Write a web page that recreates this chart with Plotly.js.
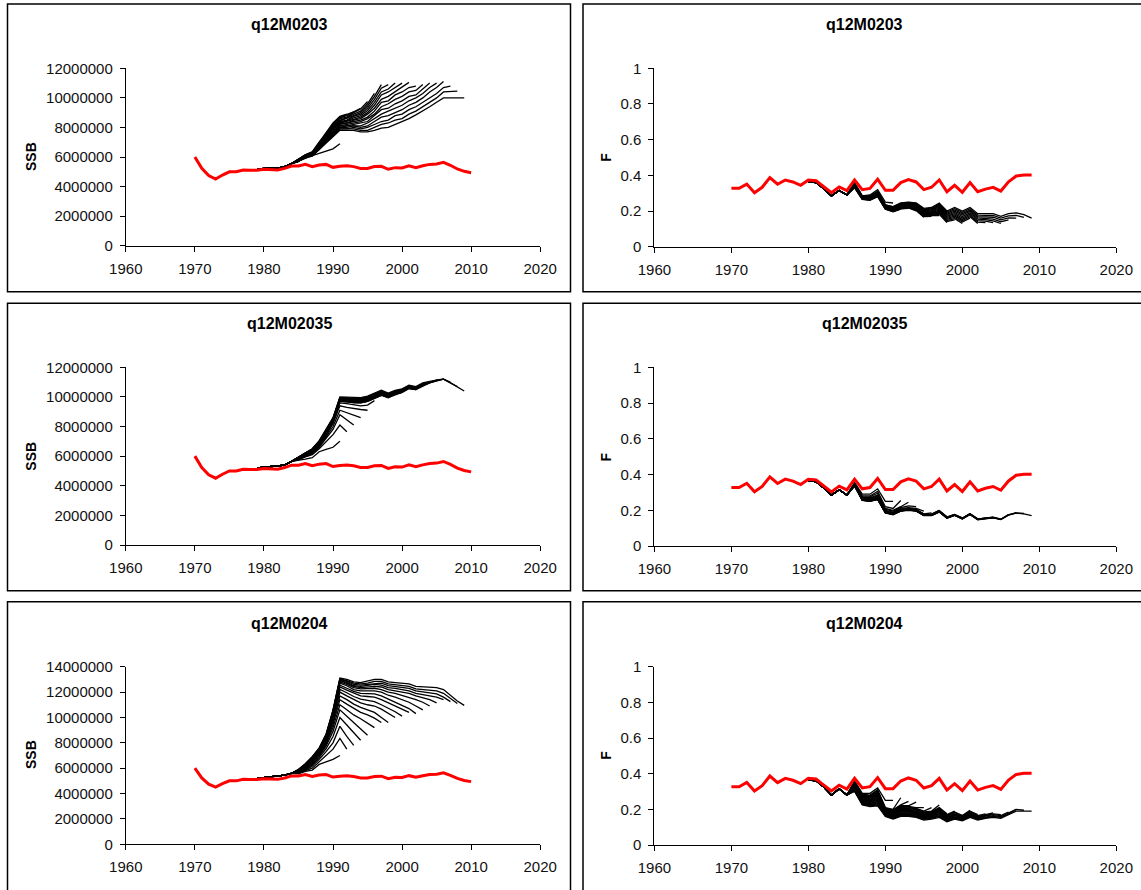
<!DOCTYPE html>
<html>
<head>
<meta charset="utf-8">
<script src="https://cdn.plot.ly/plotly-3.0.1.min.js"></script>
<style>
  html, body { margin: 0; padding: 0; background: #fff; }
  #chart { width: 1141px; height: 890px; }
</style>
</head>
<body>
<div id="chart"></div>
<script>
// --- Data (SSB in millions, F as rate) ---

// terminal years of the retrospective peels, one per black line
const peelYears = [1991, 1992, 1993, 1994, 1995, 1996, 1997, 1998, 1999, 2000,
                   2001, 2002, 2003, 2004, 2005, 2006, 2007, 2008, 2009];

// red reference run
const redSsbStart = 1970;
const redSsb = [6.0, 5.23, 4.74, 4.51, 4.78, 5.0, 5.0, 5.12, 5.1, 5.1,
                5.17, 5.14, 5.12, 5.23, 5.39, 5.39, 5.5, 5.35, 5.46, 5.5,
                5.3, 5.37, 5.41, 5.35, 5.23, 5.23, 5.35, 5.37, 5.17, 5.28,
                5.26, 5.41, 5.28, 5.41, 5.5, 5.53, 5.64, 5.44, 5.19, 5.03, 4.94];
const redFStart = 1970;
const redF = [0.327, 0.327, 0.351, 0.303, 0.333, 0.387, 0.35, 0.374, 0.363, 0.344,
              0.374, 0.37, 0.336, 0.303, 0.335, 0.314, 0.374, 0.32, 0.327, 0.378,
              0.316, 0.316, 0.359, 0.376, 0.363, 0.32, 0.333, 0.374, 0.308, 0.344,
              0.305, 0.359, 0.308, 0.323, 0.333, 0.312, 0.364, 0.396, 0.402, 0.402];

// SSB peels: shared head 1979-1984, then one tail per peel from 1985
const ssbHeadStart = 1979;
const ssbHead0203 = [5.2, 5.25, 5.25, 5.25, 5.35, 5.55];
const ssbPeels0203 = [
  [5.7, 5.9, 6.1, 6.25, 6.45, 6.55, 6.9],
  [5.85, 6.15, 6.35, 7.0, 7.6, 8.3, 8.75, 8.9],
  [5.85, 6.15, 6.35, 7.0, 7.55, 8.25, 8.7, 8.85, 9.05],
  [5.85, 6.15, 6.3, 6.95, 7.55, 8.2, 8.65, 8.8, 9.05, 9.3],
  [5.85, 6.1, 6.3, 6.9, 7.5, 8.1, 8.6, 8.7, 9.0, 9.25, 9.75],
  [5.8, 6.1, 6.3, 6.9, 7.45, 8.05, 8.5, 8.65, 8.9, 9.1, 9.6, 10.3],
  [5.8, 6.1, 6.25, 6.85, 7.4, 8.0, 8.45, 8.6, 8.8, 9.0, 9.45, 10.1, 10.9],
  [5.8, 6.1, 6.25, 6.85, 7.4, 7.95, 8.4, 8.5, 8.75, 8.9, 9.3, 9.9, 10.65, 10.9],
  [5.8, 6.05, 6.2, 6.8, 7.3, 7.9, 8.35, 8.45, 8.65, 8.8, 9.15, 9.7, 10.4, 10.6, 11.0],
  [5.8, 6.05, 6.2, 6.8, 7.3, 7.85, 8.3, 8.4, 8.55, 8.7, 9.0, 9.5, 10.2, 10.4, 10.7, 11.0],
  [5.8, 6.05, 6.2, 6.7, 7.25, 7.8, 8.25, 8.3, 8.5, 8.6, 8.9, 9.3, 9.9, 10.1, 10.4, 10.7, 11.05],
  [5.75, 6.0, 6.2, 6.7, 7.2, 7.7, 8.2, 8.3, 8.4, 8.5, 8.7, 9.1, 9.7, 9.8, 10.2, 10.4, 10.7, 10.8],
  [5.75, 6.0, 6.2, 6.7, 7.2, 7.7, 8.1, 8.2, 8.3, 8.4, 8.6, 8.9, 9.4, 9.6, 9.9, 10.1, 10.4, 10.5, 10.9],
  [5.75, 6.0, 6.1, 6.7, 7.1, 7.6, 8.1, 8.1, 8.2, 8.3, 8.4, 8.8, 9.2, 9.3, 9.6, 9.8, 10.1, 10.2, 10.6, 11.0],
  [5.7, 6.0, 6.1, 6.6, 7.1, 7.6, 8.0, 8.1, 8.1, 8.1, 8.3, 8.6, 8.9, 9.1, 9.3, 9.5, 9.8, 10.0, 10.3, 10.7, 11.0],
  [5.7, 6.0, 6.1, 6.6, 7.1, 7.5, 8.0, 8.0, 8.1, 8.0, 8.1, 8.4, 8.7, 8.8, 9.0, 9.2, 9.5, 9.7, 10.0, 10.4, 10.7, 11.1],
  [5.7, 6.0, 6.1, 6.6, 7.0, 7.5, 7.9, 7.9, 8.0, 7.9, 8.0, 8.2, 8.4, 8.5, 8.8, 8.9, 9.2, 9.4, 9.7, 10.0, 10.3, 10.7, 10.8],
  [5.7, 6.0, 6.1, 6.5, 7.0, 7.4, 7.9, 7.9, 7.9, 7.8, 7.8, 8.0, 8.2, 8.3, 8.5, 8.6, 8.9, 9.1, 9.4, 9.7, 10.0, 10.4, 10.4, 10.45],
  [5.7, 5.95, 6.05, 6.5, 6.95, 7.35, 7.8, 7.8, 7.8, 7.7, 7.7, 7.8, 7.95, 8.0, 8.2, 8.35, 8.6, 8.85, 9.1, 9.4, 9.7, 10.0, 10.0, 10.0, 10.0]
];

const ssbHead02035 = [5.2, 5.25, 5.25, 5.3, 5.4, 5.65];
const ssbPeels02035 = [
  [5.7, 5.8, 5.9, 6.3, 6.45, 6.6, 7.0],
  [5.75, 5.95, 6.1, 6.5, 7.0, 7.45, 8.1, 7.65],
  [5.8, 6.0, 6.15, 6.6, 7.2, 7.8, 8.8, 8.45, 8.1],
  [5.8, 6.0, 6.2, 6.65, 7.3, 8.0, 9.1, 8.95, 8.8, 8.6],
  [5.8, 6.05, 6.25, 6.7, 7.4, 8.2, 9.4, 9.3, 9.2, 9.15, 9.1],
  [5.85, 6.05, 6.3, 6.75, 7.45, 8.25, 9.6, 9.55, 9.45, 9.4, 9.45, 9.75],
  [5.85, 6.1, 6.3, 6.8, 7.5, 8.3, 9.7, 9.65, 9.6, 9.6, 9.7, 9.9, 10.1],
  [5.85, 6.1, 6.3, 6.8, 7.5, 8.3, 9.7, 9.7, 9.6, 9.6, 9.7, 9.9, 10.1, 9.95],
  [5.85, 6.1, 6.35, 6.85, 7.55, 8.35, 9.75, 9.7, 9.65, 9.65, 9.75, 9.95, 10.15, 9.95, 10.2],
  [5.85, 6.1, 6.35, 6.85, 7.55, 8.35, 9.75, 9.75, 9.7, 9.65, 9.75, 9.95, 10.15, 9.95, 10.15, 10.3],
  [5.9, 6.15, 6.35, 6.9, 7.6, 8.4, 9.8, 9.75, 9.7, 9.7, 9.8, 10.0, 10.2, 10.0, 10.2, 10.3, 10.6],
  [5.9, 6.15, 6.4, 6.9, 7.6, 8.4, 9.8, 9.8, 9.75, 9.7, 9.8, 10.0, 10.2, 10.0, 10.2, 10.3, 10.55, 10.5],
  [5.9, 6.15, 6.4, 6.9, 7.65, 8.45, 9.85, 9.8, 9.75, 9.75, 9.85, 10.05, 10.25, 10.05, 10.25, 10.35, 10.6, 10.5, 10.8],
  [5.9, 6.2, 6.4, 6.95, 7.65, 8.45, 9.85, 9.85, 9.8, 9.75, 9.85, 10.05, 10.25, 10.05, 10.25, 10.35, 10.6, 10.5, 10.75, 10.95],
  [5.9, 6.2, 6.45, 6.95, 7.7, 8.5, 9.9, 9.85, 9.8, 9.8, 9.9, 10.1, 10.3, 10.1, 10.3, 10.4, 10.6, 10.55, 10.8, 10.95, 11.1],
  [5.95, 6.2, 6.45, 7.0, 7.7, 8.5, 9.9, 9.9, 9.85, 9.85, 9.95, 10.1, 10.3, 10.1, 10.3, 10.4, 10.65, 10.55, 10.8, 10.95, 11.1, 11.2],
  [5.95, 6.2, 6.45, 7.0, 7.75, 8.55, 9.95, 9.9, 9.85, 9.85, 9.95, 10.15, 10.35, 10.15, 10.35, 10.45, 10.7, 10.6, 10.85, 11.0, 11.1, 11.2, 11.0],
  [5.95, 6.25, 6.5, 7.0, 7.75, 8.55, 9.95, 9.95, 9.9, 9.9, 10.0, 10.2, 10.4, 10.2, 10.4, 10.5, 10.75, 10.65, 10.9, 11.0, 11.15, 11.2, 10.95, 10.7],
  [5.95, 6.25, 6.5, 7.05, 7.8, 8.6, 10.0, 10.0, 9.95, 9.95, 10.05, 10.25, 10.45, 10.25, 10.45, 10.55, 10.8, 10.7, 10.95, 11.05, 11.15, 11.2, 10.95, 10.65, 10.4]
];

const ssbHead0204 = [5.2, 5.25, 5.3, 5.35, 5.45, 5.6];
const ssbPeels0204 = [
  [5.55, 5.75, 5.85, 6.3, 6.5, 6.7, 7.0],
  [5.6, 5.8, 6.0, 6.5, 7.0, 7.5, 8.35, 7.5],
  [5.65, 5.85, 6.15, 6.7, 7.3, 8.0, 9.3, 8.5, 7.8],
  [5.65, 5.9, 6.25, 6.85, 7.55, 8.5, 10.0, 9.4, 8.8, 8.2],
  [5.7, 5.95, 6.35, 6.95, 7.75, 8.9, 10.6, 10.1, 9.6, 9.1, 8.6],
  [5.7, 6.0, 6.45, 7.05, 7.9, 9.2, 11.0, 10.6, 10.2, 9.9, 9.55, 9.2],
  [5.75, 6.05, 6.5, 7.1, 8.0, 9.45, 11.4, 11.05, 10.7, 10.4, 10.2, 9.95, 9.6],
  [5.75, 6.1, 6.55, 7.2, 8.1, 9.65, 11.7, 11.4, 11.05, 10.8, 10.6, 10.4, 10.0, 9.6],
  [5.75, 6.1, 6.6, 7.25, 8.2, 9.85, 12.0, 11.7, 11.4, 11.15, 11.0, 10.9, 10.65, 10.35, 10.0],
  [5.8, 6.15, 6.65, 7.3, 8.3, 10.0, 12.2, 11.95, 11.65, 11.45, 11.35, 11.25, 11.0, 10.75, 10.45, 10.1],
  [5.8, 6.15, 6.7, 7.35, 8.35, 10.1, 12.4, 12.15, 11.9, 11.7, 11.65, 11.6, 11.4, 11.15, 10.95, 10.7, 10.4],
  [5.8, 6.2, 6.7, 7.4, 8.4, 10.2, 12.55, 12.3, 12.05, 11.9, 11.85, 11.85, 11.7, 11.45, 11.25, 11.0, 10.7, 10.3],
  [5.85, 6.2, 6.75, 7.4, 8.45, 10.3, 12.7, 12.5, 12.2, 12.1, 12.1, 12.1, 12.0, 11.75, 11.6, 11.4, 11.2, 10.9, 10.6],
  [5.85, 6.25, 6.8, 7.45, 8.5, 10.35, 12.8, 12.6, 12.35, 12.25, 12.25, 12.3, 12.2, 12.0, 11.9, 11.75, 11.6, 11.4, 11.2, 10.9],
  [5.85, 6.25, 6.8, 7.5, 8.55, 10.4, 12.9, 12.7, 12.45, 12.35, 12.4, 12.45, 12.4, 12.2, 12.1, 12.0, 11.9, 11.7, 11.55, 11.4, 11.15],
  [5.85, 6.3, 6.85, 7.5, 8.6, 10.45, 12.95, 12.75, 12.5, 12.45, 12.5, 12.6, 12.55, 12.35, 12.3, 12.2, 12.1, 11.9, 11.8, 11.75, 11.6, 11.4],
  [5.9, 6.3, 6.85, 7.55, 8.6, 10.5, 13.0, 12.85, 12.6, 12.55, 12.6, 12.7, 12.7, 12.5, 12.45, 12.35, 12.3, 12.1, 12.0, 11.95, 11.85, 11.6, 11.25],
  [5.9, 6.35, 6.9, 7.55, 8.65, 10.55, 13.05, 12.9, 12.7, 12.65, 12.7, 12.85, 12.85, 12.65, 12.6, 12.5, 12.45, 12.25, 12.2, 12.15, 12.1, 11.9, 11.5, 11.1],
  [5.9, 6.35, 6.9, 7.6, 8.7, 10.6, 13.1, 13.0, 12.8, 12.75, 12.85, 13.0, 13.0, 12.8, 12.75, 12.7, 12.65, 12.45, 12.4, 12.4, 12.35, 12.2, 11.75, 11.3, 10.95]
];

// F peels: shared head 1980-1985, then one tail per peel from 1986
const fHeadStart = 1980;
const fHead0203 = [0.365, 0.36, 0.325, 0.285, 0.315, 0.29];
const fPeels0203 = [
  [0.36, 0.285, 0.29, 0.32, 0.25, 0.245],
  [0.330, 0.265, 0.260, 0.280, 0.210, 0.195, 0.210],
  [0.332, 0.266, 0.262, 0.282, 0.212, 0.197, 0.212, 0.215],
  [0.333, 0.267, 0.263, 0.284, 0.213, 0.199, 0.214, 0.217, 0.200],
  [0.335, 0.269, 0.265, 0.285, 0.215, 0.200, 0.216, 0.219, 0.203, 0.165],
  [0.336, 0.270, 0.266, 0.287, 0.216, 0.202, 0.218, 0.222, 0.206, 0.169, 0.170],
  [0.337, 0.271, 0.267, 0.289, 0.217, 0.204, 0.220, 0.224, 0.209, 0.172, 0.174, 0.175],
  [0.339, 0.272, 0.269, 0.291, 0.219, 0.206, 0.222, 0.226, 0.212, 0.176, 0.178, 0.181, 0.135],
  [0.340, 0.273, 0.270, 0.292, 0.220, 0.207, 0.224, 0.228, 0.215, 0.179, 0.182, 0.187, 0.141, 0.150],
  [0.342, 0.274, 0.272, 0.294, 0.222, 0.209, 0.226, 0.230, 0.218, 0.183, 0.185, 0.193, 0.147, 0.157, 0.130],
  [0.343, 0.276, 0.273, 0.296, 0.223, 0.211, 0.229, 0.233, 0.221, 0.186, 0.189, 0.198, 0.153, 0.164, 0.138, 0.160],
  [0.345, 0.277, 0.275, 0.298, 0.225, 0.213, 0.231, 0.235, 0.224, 0.190, 0.193, 0.204, 0.159, 0.171, 0.146, 0.168, 0.130],
  [0.346, 0.278, 0.276, 0.300, 0.226, 0.215, 0.233, 0.237, 0.227, 0.194, 0.197, 0.210, 0.165, 0.178, 0.153, 0.175, 0.138, 0.135],
  [0.348, 0.279, 0.278, 0.301, 0.228, 0.216, 0.235, 0.239, 0.230, 0.197, 0.201, 0.216, 0.170, 0.185, 0.161, 0.183, 0.146, 0.143, 0.135],
  [0.349, 0.280, 0.279, 0.303, 0.229, 0.218, 0.237, 0.241, 0.233, 0.201, 0.205, 0.222, 0.176, 0.192, 0.169, 0.190, 0.154, 0.152, 0.145, 0.130],
  [0.351, 0.281, 0.281, 0.305, 0.231, 0.220, 0.239, 0.243, 0.236, 0.204, 0.208, 0.228, 0.182, 0.199, 0.177, 0.198, 0.161, 0.160, 0.155, 0.140, 0.150],
  [0.352, 0.283, 0.282, 0.306, 0.232, 0.221, 0.241, 0.246, 0.239, 0.208, 0.212, 0.233, 0.188, 0.206, 0.184, 0.205, 0.169, 0.168, 0.165, 0.150, 0.162, 0.160],
  [0.354, 0.284, 0.284, 0.308, 0.234, 0.223, 0.243, 0.248, 0.242, 0.211, 0.216, 0.239, 0.194, 0.213, 0.192, 0.213, 0.177, 0.177, 0.175, 0.160, 0.173, 0.175, 0.165],
  [0.355, 0.285, 0.285, 0.310, 0.235, 0.225, 0.245, 0.250, 0.245, 0.215, 0.220, 0.245, 0.200, 0.220, 0.200, 0.220, 0.185, 0.185, 0.185, 0.170, 0.185, 0.190, 0.180, 0.160]
];

const fHead02035 = [0.365, 0.36, 0.325, 0.285, 0.315, 0.285];
const fPeels02035 = [
  [0.355, 0.29, 0.29, 0.32, 0.25, 0.25],
  [0.35, 0.28, 0.28, 0.305, 0.22, 0.21, 0.255],
  [0.35, 0.275, 0.275, 0.295, 0.21, 0.2, 0.22, 0.245],
  [0.345, 0.27, 0.27, 0.285, 0.205, 0.195, 0.215, 0.225, 0.22],
  [0.345, 0.265, 0.265, 0.28, 0.2, 0.19, 0.21, 0.215, 0.21, 0.195],
  [0.34, 0.265, 0.26, 0.275, 0.195, 0.185, 0.205, 0.21, 0.205, 0.18, 0.185],
  [0.34, 0.262, 0.258, 0.27, 0.195, 0.183, 0.203, 0.208, 0.203, 0.178, 0.178, 0.2],
  [0.34, 0.262, 0.257, 0.268, 0.193, 0.182, 0.202, 0.207, 0.202, 0.177, 0.177, 0.198, 0.163],
  [0.338, 0.26, 0.255, 0.266, 0.191, 0.181, 0.201, 0.206, 0.201, 0.176, 0.176, 0.197, 0.162, 0.177],
  [0.338, 0.26, 0.255, 0.265, 0.19, 0.18, 0.2, 0.205, 0.2, 0.175, 0.175, 0.196, 0.161, 0.176, 0.157],
  [0.34, 0.26, 0.255, 0.265, 0.19, 0.18, 0.2, 0.205, 0.2, 0.175, 0.175, 0.195, 0.16, 0.175, 0.156, 0.182],
  [0.34, 0.259, 0.254, 0.264, 0.189, 0.179, 0.199, 0.204, 0.199, 0.174, 0.174, 0.194, 0.159, 0.174, 0.155, 0.18, 0.152],
  [0.34, 0.259, 0.254, 0.264, 0.189, 0.179, 0.199, 0.204, 0.199, 0.174, 0.174, 0.194, 0.159, 0.174, 0.155, 0.18, 0.151, 0.157],
  [0.339, 0.258, 0.253, 0.263, 0.188, 0.178, 0.198, 0.203, 0.198, 0.173, 0.173, 0.193, 0.158, 0.174, 0.154, 0.179, 0.15, 0.156, 0.162],
  [0.339, 0.258, 0.253, 0.263, 0.188, 0.178, 0.198, 0.203, 0.198, 0.173, 0.173, 0.193, 0.158, 0.173, 0.154, 0.179, 0.15, 0.155, 0.161, 0.151],
  [0.338, 0.257, 0.252, 0.262, 0.187, 0.177, 0.197, 0.202, 0.197, 0.172, 0.172, 0.192, 0.157, 0.173, 0.153, 0.178, 0.149, 0.154, 0.16, 0.15, 0.176],
  [0.338, 0.257, 0.252, 0.262, 0.187, 0.177, 0.197, 0.202, 0.197, 0.172, 0.172, 0.192, 0.157, 0.172, 0.153, 0.178, 0.149, 0.154, 0.159, 0.149, 0.175, 0.187],
  [0.337, 0.256, 0.251, 0.261, 0.186, 0.176, 0.196, 0.201, 0.196, 0.171, 0.171, 0.191, 0.156, 0.172, 0.152, 0.177, 0.148, 0.153, 0.159, 0.149, 0.174, 0.185, 0.182],
  [0.336, 0.255, 0.25, 0.26, 0.185, 0.175, 0.195, 0.2, 0.195, 0.17, 0.17, 0.19, 0.155, 0.171, 0.151, 0.176, 0.147, 0.152, 0.158, 0.148, 0.173, 0.184, 0.18, 0.17]
];

const fHead0204 = [0.365, 0.36, 0.325, 0.28, 0.315, 0.28];
const fPeels0204 = [
  [0.36, 0.29, 0.29, 0.32, 0.25, 0.25],
  [0.355, 0.285, 0.280, 0.310, 0.210, 0.200, 0.265],
  [0.352, 0.281, 0.276, 0.305, 0.207, 0.197, 0.225, 0.245],
  [0.348, 0.278, 0.272, 0.299, 0.204, 0.193, 0.221, 0.220, 0.240],
  [0.345, 0.274, 0.268, 0.294, 0.201, 0.190, 0.217, 0.216, 0.210, 0.210],
  [0.342, 0.271, 0.264, 0.288, 0.198, 0.187, 0.213, 0.212, 0.206, 0.190, 0.210],
  [0.339, 0.268, 0.261, 0.284, 0.196, 0.184, 0.209, 0.208, 0.202, 0.186, 0.190, 0.225],
  [0.336, 0.264, 0.257, 0.279, 0.193, 0.181, 0.205, 0.204, 0.198, 0.182, 0.186, 0.210, 0.175],
  [0.332, 0.260, 0.253, 0.273, 0.190, 0.177, 0.201, 0.200, 0.194, 0.178, 0.183, 0.205, 0.170, 0.190],
  [0.329, 0.257, 0.249, 0.268, 0.187, 0.174, 0.197, 0.196, 0.190, 0.175, 0.179, 0.200, 0.166, 0.185, 0.165],
  [0.326, 0.253, 0.246, 0.262, 0.184, 0.171, 0.192, 0.192, 0.186, 0.171, 0.175, 0.195, 0.162, 0.181, 0.165, 0.195],
  [0.323, 0.250, 0.242, 0.257, 0.181, 0.168, 0.188, 0.188, 0.182, 0.167, 0.171, 0.190, 0.158, 0.176, 0.161, 0.190, 0.170],
  [0.319, 0.246, 0.238, 0.252, 0.178, 0.164, 0.184, 0.184, 0.179, 0.163, 0.168, 0.185, 0.154, 0.172, 0.158, 0.185, 0.165, 0.175],
  [0.316, 0.242, 0.234, 0.246, 0.175, 0.161, 0.180, 0.180, 0.175, 0.159, 0.164, 0.180, 0.150, 0.167, 0.154, 0.180, 0.161, 0.170, 0.180],
  [0.313, 0.239, 0.231, 0.242, 0.172, 0.158, 0.176, 0.176, 0.171, 0.155, 0.160, 0.175, 0.146, 0.163, 0.150, 0.175, 0.157, 0.166, 0.175, 0.170],
  [0.310, 0.236, 0.227, 0.236, 0.169, 0.155, 0.172, 0.172, 0.167, 0.152, 0.156, 0.170, 0.142, 0.158, 0.146, 0.170, 0.153, 0.162, 0.170, 0.165, 0.185],
  [0.307, 0.232, 0.223, 0.231, 0.166, 0.152, 0.168, 0.168, 0.163, 0.148, 0.153, 0.165, 0.138, 0.154, 0.143, 0.165, 0.148, 0.158, 0.165, 0.160, 0.180, 0.200],
  [0.303, 0.229, 0.219, 0.225, 0.163, 0.148, 0.164, 0.164, 0.159, 0.144, 0.149, 0.160, 0.134, 0.149, 0.139, 0.160, 0.144, 0.154, 0.160, 0.155, 0.175, 0.200, 0.195],
  [0.300, 0.225, 0.215, 0.220, 0.160, 0.145, 0.160, 0.160, 0.155, 0.140, 0.145, 0.155, 0.130, 0.145, 0.135, 0.155, 0.140, 0.150, 0.155, 0.150, 0.170, 0.190, 0.190, 0.190]
];

const panelTitles = ['q12M0203', 'q12M02035', 'q12M0204'];

// --- Layout helpers (pixel positions measured on the 1141x890 picture) ---
const W = 1141, H = 890;
const px = v => v / W;
const py = v => 1 - v / H;

const FONT = 'Liberation Sans, Arial, sans-serif';

// [top px, bottom px] of plot area per row, for left (SSB) and right (F) panels
const rowsLeft = [[68.3, 245.7], [367.3, 545], [666.7, 844.3]];
const rowsRight = [[68.3, 246.7], [367.3, 546], [666.7, 845]];
const titleY = [25, 323.3, 623.3];
const axisTitleY = [157, 456.7, 755];
const frameRows = [[4, 291.7], [303.3, 590.7], [601.7, 900]];

const ssbSets = [[ssbHead0203, ssbPeels0203], [ssbHead02035, ssbPeels02035], [ssbHead0204, ssbPeels0204]];
const fSets = [[fHead0203, fPeels0203], [fHead02035, fPeels02035], [fHead0204, fPeels0204]];
const ssbMax = [12, 12, 14];

function axisBase() {
  return {
    showline: true, linecolor: '#000', linewidth: 1,
    ticks: 'outside', ticklen: 5, tickwidth: 1, tickcolor: '#000',
    showgrid: false, zeroline: false, fixedrange: true,
    tickfont: { family: FONT, size: 15, color: '#111' }
  };
}

function peelTraces(head, headStart, peels, xa, ya, scale) {
  return peels.map(tail => {
    const vals = head.concat(tail);
    return {
      type: 'scatter', mode: 'lines',
      x: vals.map((_, j) => headStart + j),
      y: vals.map(v => v * scale),
      xaxis: xa, yaxis: ya,
      line: { color: '#000', width: 1.3 },
      hoverinfo: 'skip', showlegend: false
    };
  });
}

function redTrace(vals, start, xa, ya, scale) {
  return {
    type: 'scatter', mode: 'lines',
    x: vals.map((_, j) => start + j),
    y: vals.map(v => v * scale),
    xaxis: xa, yaxis: ya,
    line: { color: '#ff0000', width: 3 },
    hoverinfo: 'skip', showlegend: false
  };
}

const traces = [];
const layout = {
  width: W, height: H,
  margin: { l: 0, r: 0, t: 0, b: 0 },
  paper_bgcolor: '#fff', plot_bgcolor: '#fff',
  showlegend: false,
  font: { family: FONT, color: '#000' },
  annotations: [], shapes: []
};

for (let r = 0; r < 3; r++) {
  const nL = 2 * r + 1, nR = 2 * r + 2;
  const xL = nL === 1 ? 'x' : 'x' + nL, yL = nL === 1 ? 'y' : 'y' + nL;
  const xR = 'x' + nR, yR = 'y' + nR;

  // left: SSB
  layout['xaxis' + (nL === 1 ? '' : nL)] = Object.assign(axisBase(), {
    domain: [px(125.8), px(540.2)], anchor: yL,
    range: [1960, 2020], tick0: 1960, dtick: 10, ticklabelstandoff: 4
  });
  layout['yaxis' + (nL === 1 ? '' : nL)] = Object.assign(axisBase(), {
    domain: [py(rowsLeft[r][1]), py(rowsLeft[r][0])], anchor: xL,
    range: [0, ssbMax[r] * 1e6], tick0: 0, dtick: 2e6, tickformat: 'd', ticklabelstandoff: 4
  });
  // right: F
  layout['xaxis' + nR] = Object.assign(axisBase(), {
    domain: [px(654.4), px(1116.3)], anchor: yR,
    range: [1960, 2020], tick0: 1960, dtick: 10, ticklabelstandoff: 4
  });
  layout['yaxis' + nR] = Object.assign(axisBase(), {
    domain: [py(rowsRight[r][1]), py(rowsRight[r][0])], anchor: xR,
    range: [0, 1], tick0: 0, dtick: 0.2, ticklabelstandoff: 4
  });

  traces.push(...peelTraces(ssbSets[r][0], ssbHeadStart, ssbSets[r][1], xL, yL, 1e6));
  traces.push(redTrace(redSsb, redSsbStart, xL, yL, 1e6));
  traces.push(...peelTraces(fSets[r][0], fHeadStart, fSets[r][1], xR, yR, 1));
  traces.push(redTrace(redF, redFStart, xR, yR, 1));

  // panel titles
  [[289, panelTitles[r]], [864.4, panelTitles[r]]].forEach(([cx, txt]) => {
    layout.annotations.push({
      xref: 'paper', yref: 'paper', x: px(cx), y: py(titleY[r]),
      xanchor: 'center', yanchor: 'middle', showarrow: false,
      text: '<b>' + txt + '</b>', font: { family: FONT, size: 16, color: '#000' }
    });
  });
  // axis titles
  [[31, 'SSB'], [605.8, 'F']].forEach(([cx, txt]) => {
    layout.annotations.push({
      xref: 'paper', yref: 'paper', x: px(cx), y: py(axisTitleY[r]),
      xanchor: 'center', yanchor: 'middle', showarrow: false, textangle: -90,
      text: '<b>' + txt + '</b>', font: { family: FONT, size: 14, color: '#000' }
    });
  });
  // chart frames
  [[7.5, 570.5], [583, 1150]].forEach(([x0, x1]) => {
    layout.shapes.push({
      type: 'rect', xref: 'paper', yref: 'paper', layer: 'below',
      x0: px(x0), x1: px(x1), y0: py(frameRows[r][1]), y1: py(frameRows[r][0]),
      line: { color: '#000', width: 1.5 }, fillcolor: 'rgba(0,0,0,0)'
    });
  });
}

Plotly.newPlot('chart', traces, layout, { staticPlot: true, displayModeBar: false });
</script>
</body>
</html>
